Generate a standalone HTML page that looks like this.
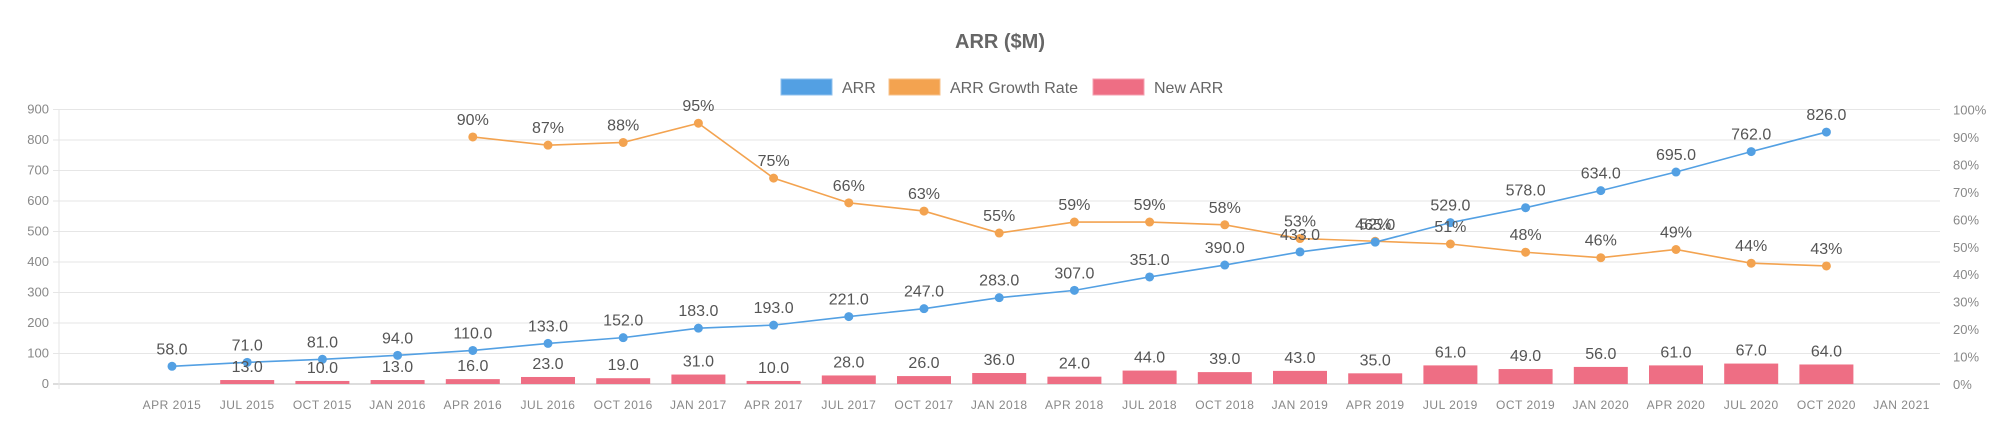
<!DOCTYPE html>
<html><head><meta charset="utf-8"><style>
body{margin:0;background:#fff;font-family:"Liberation Sans",sans-serif}
svg text{font-family:"Liberation Sans",sans-serif}
</style></head><body>
<svg id="c" width="2000" height="436">
<text x="1000" y="48" text-anchor="middle" font-size="20" font-weight="bold" fill="#666">ARR ($M)</text>
<g>
<g><rect x="781" y="79" width="51" height="16" fill="#53a0e3" stroke="#8fc0ee"/><text x="842" y="93" font-size="16" fill="#666">ARR</text></g>
<g><rect x="889" y="79" width="51" height="16" fill="#f3a350" stroke="#f7c08a"/><text x="950" y="93" font-size="16" fill="#666">ARR Growth Rate</text></g>
<g><rect x="1093" y="79" width="51" height="16" fill="#ee6e84" stroke="#f4a0b0"/><text x="1154" y="93" font-size="16" fill="#666">New ARR</text></g>
</g>
<g id="grid"></g><g id="bars"></g><g id="lines"></g><g id="labels"></g>
</svg>
<script>
const categories=["APR 2015","JUL 2015","OCT 2015","JAN 2016","APR 2016","JUL 2016","OCT 2016","JAN 2017","APR 2017","JUL 2017","OCT 2017","JAN 2018","APR 2018","JUL 2018","OCT 2018","JAN 2019","APR 2019","JUL 2019","OCT 2019","JAN 2020","APR 2020","JUL 2020","OCT 2020","JAN 2021"];
const arr=[58,71,81,94,110,133,152,183,193,221,247,283,307,351,390,433,465,529,578,634,695,762,826,null];
const newArr=[null,13,10,13,16,23,19,31,10,28,26,36,24,44,39,43,35,61,49,56,61,67,64,null];
const growth=[null,null,null,null,90,87,88,95,75,66,63,55,59,59,58,53,52,51,48,46,49,44,43,null];
const leftTicks=[0,100,200,300,400,500,600,700,800,900];
const rightTicks=[0,10,20,30,40,50,60,70,80,90,100];
const NS="http://www.w3.org/2000/svg";
const L=59,R=1940,T=109.5,B=384;
const x=i=>172+i*75.2;
const yL=v=>B-(B-T)*v/900;
const yR=v=>B-(B-T)*v/100;
function mk(tag,attrs,parent,text){const e=document.createElementNS(NS,tag);for(const k in attrs)e.setAttribute(k,attrs[k]);if(text!=null)e.textContent=text;document.getElementById(parent).appendChild(e);return e;}
leftTicks.forEach(v=>{
 const g=mk('line',{x1:L-6,x2:R,y1:yL(v),y2:yL(v),stroke:v===0?'#bbb':'#e6e6e6','stroke-width':1},'grid');
 
 
 const t=mk('text',{x:L-10,y:yL(v)+4,'text-anchor':'end','font-size':13,fill:'#888'},'grid',v);
 
 
});
rightTicks.forEach(v=>{
 const t=mk('text',{x:1953,y:yR(v)+5,'font-size':13,fill:'#888'},'grid',v+'%');
 
 
});
const ax=mk('line',{x1:L,x2:L,y1:T,y2:B+5,stroke:'#e6e6e6'},'grid');


categories.forEach((c,i)=>{
 const t=mk('text',{x:x(i),y:409,'text-anchor':'middle','font-size':12,fill:'#888','letter-spacing':'0.5'},'grid',c);
 
 
});
newArr.forEach((v,i)=>{
 if(v==null)return;
 const b=mk('rect',{x:x(i)-27,y:yL(v),width:54,height:B-yL(v),fill:'#ee6e84'},'bars');
 
 
 const t=mk('text',{x:x(i),y:yL(v)-8,'text-anchor':'middle','font-size':16,fill:'#555'},'labels',v.toFixed(1));
 
 
});
function series(data,yf,color,name,fmt){
 let d='';data.forEach((v,i)=>{if(v==null)return;d+=(d?'L':'M')+x(i)+','+yf(v);});
 const p=mk('path',{d:d,fill:'none',stroke:color,'stroke-width':1.6},'lines');
 
 
 data.forEach((v,i)=>{
  if(v==null)return;
  const c=mk('circle',{cx:x(i),cy:yf(v),r:4.5,fill:color},'lines');
  
  
  const t=mk('text',{x:x(i),y:yf(v)-12,'text-anchor':'middle','font-size':16,fill:'#555'},'labels',fmt(v));
  
  
 });
}
series(growth,yR,'#f3a350','growth-rate',v=>v+'%');
series(arr,yL,'#53a0e3','arr',v=>v.toFixed(1));
</script>
</body></html>
